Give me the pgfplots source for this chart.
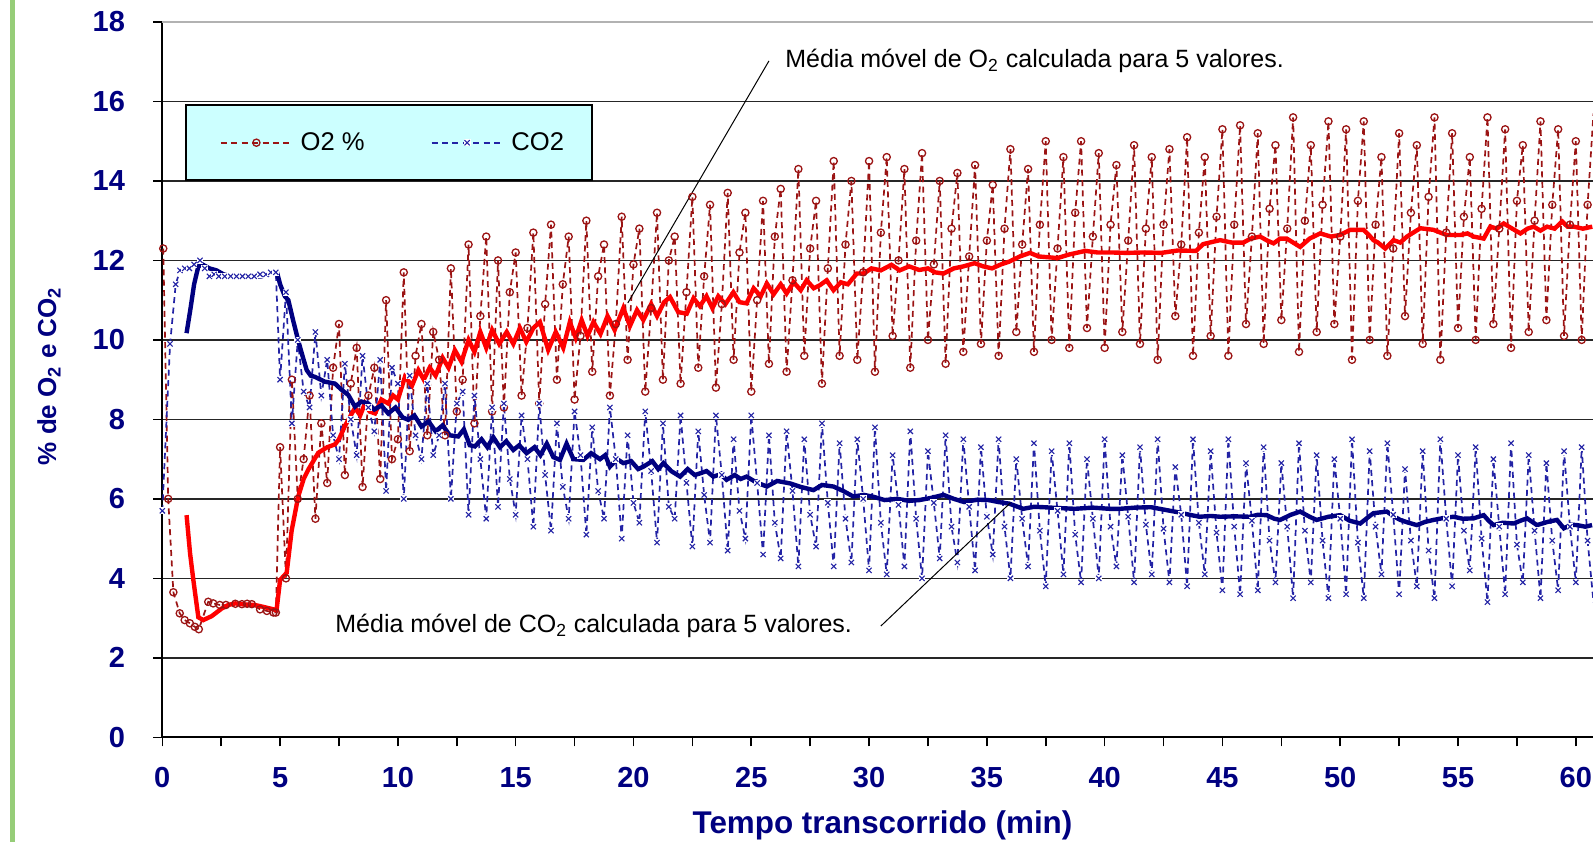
\documentclass[border=0pt]{standalone}
\usepackage{fontspec}
\setmainfont{Liberation Sans}
\usepackage{pgfplots}
\pgfplotsset{compat=1.18}
\definecolor{navy}{RGB}{0,0,128}
\definecolor{otwo}{RGB}{155,20,20}
\definecolor{cotwo}{RGB}{35,35,165}
\definecolor{legfill}{RGB}{204,255,255}
\definecolor{brd}{RGB}{150,205,120}
\pgfdeclareplotmark{xbox}{%
  \pgfscope
  \pgfpathrectangle{\pgfqpoint{-1.3\pgfplotmarksize}{-1.3\pgfplotmarksize}}{\pgfqpoint{2.6\pgfplotmarksize}{2.6\pgfplotmarksize}}%
  \pgfsetfillcolor{white}\pgfusepathqfill
  \endpgfscope
  \pgfpathmoveto{\pgfqpoint{-\pgfplotmarksize}{-\pgfplotmarksize}}%
  \pgfpathlineto{\pgfqpoint{\pgfplotmarksize}{\pgfplotmarksize}}%
  \pgfpathmoveto{\pgfqpoint{-\pgfplotmarksize}{\pgfplotmarksize}}%
  \pgfpathlineto{\pgfqpoint{\pgfplotmarksize}{-\pgfplotmarksize}}%
  \pgfusepathqstroke}
\begin{document}
\begin{tikzpicture}
\useasboundingbox (0,0) rectangle (796.5pt,421pt);
\fill[brd] (5pt,0) rectangle (7.5pt,421pt);
\begin{axis}[
  at={(81.15pt,52.35pt)}, anchor=south west,
  scale only axis, width=715.35pt, height=357.65pt,
  xmin=0, xmax=60.73, ymin=0, ymax=18,
  axis x line*=bottom, axis y line*=left,
  axis line style={-, black, line width=1pt},
  xtick={0,5,...,60}, minor xtick={2.5,7.5,...,57.5},
  ytick={0,2,...,16}, extra y ticks={18},
  tick align=outside, major tick length=4.5pt, minor tick length=4.5pt,
  tick style={black, line width=0.8pt},
  ymajorgrids, grid style={black!85, line width=0.8pt},
  extra y tick style={grid style={gray!60, line width=0.8pt}},
  ticklabel style={font=\fontsize{14.5}{16}\selectfont\bfseries, text=navy, inner sep=0pt},
  /pgf/number format/assume math mode=true,
  xticklabel shift=10.5pt, yticklabel shift=14pt,
  xlabel={Tempo transcorrido (min)},
  xlabel style={at={(axis description cs:0.5034,-0.1226)}, anchor=center, font=\fontsize{15.7}{18}\selectfont\bfseries, text=navy},
  ylabel={\% de O\textsubscript{2} e CO\textsubscript{2}},
  ylabel style={at={(axis description cs:-0.0792,0.505)}, anchor=center, font=\fontsize{13}{16}\selectfont\bfseries, text=navy},
  legend columns=2,
  legend style={at={(axis description cs:0.0159,0.885)}, anchor=north west, fill=legfill, draw=black, line width=1pt,
    font=\fontsize{12.8}{15}\selectfont, text=black, inner xsep=12pt, inner ysep=11.5pt,
    /tikz/every even column/.append style={column sep=26pt}},
  legend image code/.code={\path (-5pt,0pt) (37.5pt,0pt); \draw[mark repeat=2,mark phase=2,#1] plot coordinates {(0pt,0pt) (17.75pt,0pt) (35.5pt,0pt)};},
]
\addplot[otwo, line width=0.85pt, dash pattern=on 3pt off 2.2pt, mark=o, mark size=1.8pt, mark options={solid, fill=white, line width=0.65pt}] coordinates {
(0.04,12.3)(0.25,6.0)(0.47,3.65)(0.74,3.12)(0.95,2.95)(1.17,2.87)(1.38,2.78)(1.55,2.72)(1.95,3.41)(2.16,3.37)(2.44,3.33)(2.7,3.33)(3.1,3.36)(3.38,3.35)(3.6,3.36)(3.8,3.35)(4.15,3.22)(4.44,3.18)(4.72,3.14)(4.82,3.14)
(5.0,7.3)(5.25,4.0)(5.5,9.0)(5.75,6.0)(6.0,7.0)(6.25,8.6)(6.5,5.5)(6.75,7.9)(7.0,6.4)(7.25,9.3)(7.5,10.4)(7.75,6.6)(8.0,8.9)(8.25,9.8)(8.5,6.3)(8.75,8.6)(9.0,9.3)(9.25,6.5)(9.5,11.0)(9.75,7.0)(10.0,7.5)(10.25,11.7)(10.5,7.2)(10.75,9.6)(11.0,10.4)(11.25,7.6)(11.5,10.2)(11.75,9.5)(12.0,7.6)(12.25,11.8)(12.5,8.2)(12.75,9.0)(13.0,12.4)(13.25,7.9)(13.5,10.6)(13.75,12.6)(14.0,8.2)
(14.25,12.0)(14.5,8.3)(14.75,11.2)(15.0,12.2)(15.25,8.6)(15.5,10.3)(15.75,12.7)(16.0,8.4)(16.25,10.9)(16.5,12.9)(16.75,9.0)(17.0,11.4)(17.25,12.6)(17.5,8.5)(17.75,10.1)(18.0,13.0)(18.25,9.2)(18.5,11.6)(18.75,12.4)(19.0,8.6)(19.25,10.4)(19.5,13.1)(19.75,9.5)(20.0,11.9)(20.25,12.8)(20.5,8.7)(20.75,10.8)(21.0,13.2)(21.25,9.0)(21.5,12.0)(21.75,12.6)(22.0,8.9)(22.25,11.2)(22.5,13.6)(22.75,9.3)(23.0,11.6)(23.25,13.4)(23.5,8.8)(23.75,10.9)(24.0,13.7)(24.25,9.5)(24.5,12.2)(24.75,13.2)(25.0,8.7)(25.25,11.0)(25.5,13.5)(25.75,9.4)(26.0,12.6)(26.25,13.8)(26.5,9.2)(26.75,11.5)(27.0,14.3)(27.25,9.6)(27.5,12.3)(27.75,13.5)(28.0,8.9)(28.25,11.8)(28.5,14.5)(28.75,9.6)(29.0,12.4)(29.25,14.0)(29.5,9.5)(29.75,11.7)(30.0,14.5)(30.25,9.2)(30.5,12.7)(30.75,14.6)(31.0,10.1)(31.25,12.0)(31.5,14.3)(31.75,9.3)(32.0,12.5)(32.25,14.7)(32.5,10.0)(32.75,11.9)(33.0,14.0)(33.25,9.4)(33.5,12.8)(33.75,14.2)(34.0,9.7)(34.25,12.1)(34.5,14.4)(34.75,9.9)(35.0,12.5)(35.25,13.9)(35.5,9.6)(35.75,12.8)(36.0,14.8)(36.25,10.2)(36.5,12.4)(36.75,14.3)(37.0,9.7)(37.25,12.9)(37.5,15.0)(37.75,10.0)(38.0,12.3)(38.25,14.6)(38.5,9.8)(38.75,13.2)(39.0,15.0)(39.25,10.3)(39.5,12.6)(39.75,14.7)(40.0,9.8)(40.25,12.9)(40.5,14.4)(40.75,10.2)(41.0,12.5)(41.25,14.9)(41.5,9.9)(41.75,12.8)(42.0,14.6)(42.25,9.5)(42.5,12.9)(42.75,14.8)(43.0,10.6)(43.25,12.4)(43.5,15.1)(43.75,9.6)(44.0,12.7)(44.25,14.6)(44.5,10.1)(44.75,13.1)(45.0,15.3)(45.25,9.6)(45.5,12.9)(45.75,15.4)(46.0,10.4)(46.25,12.6)(46.5,15.2)(46.75,9.9)(47.0,13.3)(47.25,14.9)(47.5,10.5)(47.75,12.8)(48.0,15.6)(48.25,9.7)(48.5,13.0)(48.75,14.9)(49.0,10.2)(49.25,13.4)(49.5,15.5)(49.75,10.4)(50.0,12.6)(50.25,15.3)(50.5,9.5)(50.75,13.5)(51.0,15.5)(51.25,10.0)(51.5,12.9)(51.75,14.6)(52.0,9.6)(52.25,12.3)(52.5,15.2)(52.75,10.6)(53.0,13.2)(53.25,14.9)(53.5,9.9)(53.75,13.6)(54.0,15.6)(54.25,9.5)(54.5,12.7)(54.75,15.2)(55.0,10.3)(55.25,13.1)(55.5,14.6)(55.75,10.0)(56.0,13.3)(56.25,15.6)(56.5,10.4)(56.75,12.8)(57.0,15.3)(57.25,9.8)(57.5,13.5)(57.75,14.9)(58.0,10.2)(58.25,13.0)(58.5,15.5)(58.75,10.5)(59.0,13.4)(59.25,15.3)(59.5,10.1)(59.75,12.9)(60.0,15.0)(60.25,10.0)(60.5,13.4)(60.75,15.7)
};
\addlegendentry{O2 \%}
\addplot[cotwo, line width=0.85pt, dash pattern=on 3pt off 2.2pt, mark=xbox, mark size=1.3pt, mark options={solid, line width=0.55pt}] coordinates {
(0.0,5.7)(0.33,9.9)(0.57,11.4)(0.75,11.75)(0.95,11.8)(1.15,11.8)(1.35,11.9)(1.6,12.0)(1.8,11.8)(2.0,11.6)(2.2,11.65)(2.4,11.6)(2.65,11.6)(2.9,11.6)(3.15,11.6)(3.4,11.6)(3.65,11.6)(3.9,11.6)(4.15,11.65)(4.4,11.65)(4.6,11.7)(4.82,11.7)
(5.0,9.0)(5.25,11.2)(5.5,7.9)(5.75,10.0)(6.0,8.7)(6.25,8.3)(6.5,10.2)(6.75,8.6)(7.0,9.5)(7.25,7.6)(7.5,7.0)(7.75,9.4)(8.0,8.0)(8.25,7.1)(8.5,9.6)(8.75,8.3)(9.0,7.7)(9.25,9.5)(9.5,6.2)(9.75,9.3)(10.0,8.9)(10.25,6.0)(10.5,9.1)(10.75,7.6)(11.0,7.0)(11.25,8.9)(11.5,7.1)(11.75,7.6)(12.0,8.9)(12.25,6.0)(12.5,8.4)(12.75,8.7)(13.0,5.6)(13.25,8.6)(13.5,7.0)(13.75,5.5)(14.0,8.3)
(14.25,5.8)(14.5,8.4)(14.75,6.5)(15.0,5.6)(15.25,8.1)(15.5,7.0)(15.75,5.3)(16.0,8.4)(16.25,6.6)(16.5,5.2)(16.75,7.9)(17.0,6.3)(17.25,5.5)(17.5,8.2)(17.75,7.1)(18.0,5.1)(18.25,7.8)(18.5,6.2)(18.75,5.5)(19.0,8.3)(19.25,7.0)(19.5,5.0)(19.75,7.6)(20.0,5.9)(20.25,5.4)(20.5,8.2)(20.75,6.7)(21.0,4.9)(21.25,7.9)(21.5,5.8)(21.75,5.5)(22.0,8.1)(22.25,6.4)(22.5,4.8)(22.75,7.7)(23.0,6.1)(23.25,4.9)(23.5,8.1)(23.75,6.6)(24.0,4.7)(24.25,7.5)(24.5,5.7)(24.75,5.0)(25.0,8.1)(25.25,6.4)(25.5,4.6)(25.75,7.6)(26.0,5.4)(26.25,4.5)(26.5,7.7)(26.75,6.2)(27.0,4.3)(27.25,7.5)(27.5,5.6)(27.75,4.8)(28.0,7.9)(28.25,5.9)(28.5,4.3)(28.75,7.4)(29.0,5.5)(29.25,4.4)(29.5,7.5)(29.75,6.0)(30.0,4.2)(30.25,7.8)(30.5,5.4)(30.75,4.1)(31.0,7.1)(31.25,5.85)(31.5,4.3)(31.75,7.7)(32.0,5.5)(32.25,4.0)(32.5,7.2)(32.75,5.9)(33.0,4.5)(33.25,7.6)(33.5,5.3)(33.75,4.4)(34.0,7.5)(34.25,5.8)(34.5,4.2)(34.75,7.3)(35.0,5.55)(35.25,4.6)(35.5,7.5)(35.75,5.3)(36.0,4.0)(36.25,7.0)(36.5,5.5)(36.75,4.3)(37.0,7.4)(37.25,5.2)(37.5,3.8)(37.75,7.2)(38.0,5.7)(38.25,4.1)(38.5,7.4)(38.75,5.1)(39.0,3.9)(39.25,7.0)(39.5,5.5)(39.75,4.0)(40.0,7.5)(40.25,5.3)(40.5,4.3)(40.75,7.1)(41.0,5.55)(41.25,3.9)(41.5,7.3)(41.75,5.35)(42.0,4.1)(42.25,7.5)(42.5,5.25)(42.75,3.9)(43.0,6.8)(43.25,5.6)(43.5,3.8)(43.75,7.5)(44.0,5.4)(44.25,4.1)(44.5,7.2)(44.75,5.15)(45.0,3.7)(45.25,7.5)(45.5,5.3)(45.75,3.6)(46.0,6.9)(46.25,5.45)(46.5,3.7)(46.75,7.3)(47.0,4.95)(47.25,3.9)(47.5,6.9)(47.75,5.3)(48.0,3.5)(48.25,7.4)(48.5,5.2)(48.75,3.9)(49.0,7.1)(49.25,4.95)(49.5,3.5)(49.75,7.0)(50.0,5.5)(50.25,3.6)(50.5,7.5)(50.75,4.9)(51.0,3.5)(51.25,7.2)(51.5,5.3)(51.75,4.1)(52.0,7.4)(52.25,5.6)(52.5,3.6)(52.75,6.75)(53.0,4.95)(53.25,3.8)(53.5,7.2)(53.75,4.7)(54.0,3.5)(54.25,7.5)(54.5,5.5)(54.75,3.8)(55.0,7.1)(55.25,5.2)(55.5,4.2)(55.75,7.3)(56.0,5.0)(56.25,3.4)(56.5,7.0)(56.75,5.3)(57.0,3.6)(57.25,7.4)(57.5,4.85)(57.75,3.9)(58.0,7.1)(58.25,5.2)(58.5,3.5)(58.75,6.9)(59.0,4.95)(59.25,3.7)(59.5,7.2)(59.75,5.3)(60.0,3.9)(60.25,7.3)(60.5,4.95)(60.75,3.4)
};
\addlegendentry{CO2}
\addplot[red, line width=2.2pt, forget plot] coordinates {
(1.03,5.59)(1.18,4.62)(1.32,3.95)(1.53,3.02)(1.74,2.95)(2.1,3.05)(2.52,3.24)(2.8,3.33)(3.1,3.37)(3.5,3.34)(3.93,3.33)(4.3,3.28)(4.72,3.22)(4.85,3.2)(5.0,3.96)(5.28,4.14)(5.49,5.2)(5.77,6.06)(6.0,6.5)(6.2,6.74)(6.62,7.16)(7.0,7.3)(7.33,7.37)(7.5,7.5)(7.75,7.83)(8.0,8.1)(8.18,8.29)(8.4,8.1)(8.6,8.4)(8.8,8.2)(9.03,8.15)(9.3,8.5)(9.59,8.4)(9.8,8.6)(10.0,8.5)
(10.3,9.07)(10.6,8.85)(10.87,9.24)(11.1,9.0)(11.35,9.3)(11.6,9.1)(11.9,9.55)(12.15,9.3)(12.42,9.74)(12.7,9.45)(13.0,10.0)(13.25,9.7)(13.5,10.2)(13.75,9.8)(14.0,10.25)(14.3,9.9)(14.62,10.2)(14.9,9.9)(15.18,10.3)(15.45,9.95)(15.75,10.3)(16.03,10.45)(16.38,9.75)(16.7,10.2)(17.02,9.8)(17.3,10.45)(17.55,10.05)(17.8,10.5)(18.05,10.1)(18.3,10.45)(18.6,10.15)(18.9,10.6)(19.2,10.25)(19.57,10.8)(19.85,10.35)(20.15,10.75)(20.42,10.5)(20.75,10.9)(21.0,10.6)(21.3,10.95)(21.55,11.08)(21.9,10.7)(22.26,10.66)(22.55,11.05)(22.82,10.85)(23.1,11.1)(23.35,10.8)(23.6,11.1)(23.9,10.9)(24.24,11.2)(24.5,10.95)(24.8,10.92)(25.1,11.3)(25.4,11.1)(25.66,11.42)(25.95,11.15)(26.25,11.4)(26.5,11.17)(26.8,11.45)(27.1,11.25)(27.35,11.5)(27.65,11.3)(27.92,11.38)(28.2,11.5)(28.49,11.25)(28.8,11.45)(29.1,11.4)(29.48,11.67)(29.78,11.67)(30.1,11.8)(30.5,11.75)(30.95,11.89)(31.3,11.75)(31.7,11.85)(32.13,11.76)(32.5,11.8)(32.8,11.7)(33.16,11.67)(33.6,11.8)(34.0,11.85)(34.48,11.93)(34.85,11.85)(35.22,11.8)(35.6,11.9)(35.95,11.97)(36.4,12.1)(36.83,12.19)(37.2,12.1)(37.6,12.08)(38.0,12.06)(38.5,12.15)(39.18,12.24)(39.7,12.2)(40.3,12.2)(40.94,12.19)(41.6,12.2)(42.41,12.19)(43.1,12.25)(43.88,12.24)(44.18,12.41)(44.6,12.47)(44.9,12.51)(45.4,12.45)(45.89,12.45)(46.2,12.55)(46.6,12.6)(46.9,12.5)(47.17,12.43)(47.45,12.55)(47.73,12.55)(48.0,12.45)(48.3,12.34)(48.7,12.55)(49.15,12.68)(49.6,12.6)(50.0,12.64)(50.42,12.77)(50.99,12.77)(51.2,12.65)(51.41,12.51)(51.6,12.45)(51.91,12.3)(52.26,12.51)(52.55,12.45)(52.83,12.6)(53.1,12.7)(53.4,12.81)(53.96,12.77)(54.25,12.7)(54.53,12.64)(55.1,12.64)(55.4,12.68)(55.66,12.6)(56.09,12.55)(56.37,12.85)(56.65,12.8)(56.94,12.93)(57.3,12.8)(57.65,12.68)(57.95,12.8)(58.21,12.85)(58.5,12.75)(58.78,12.85)(59.1,12.8)(59.42,12.98)(59.65,12.85)(59.91,12.85)(60.3,12.8)(60.7,12.85)
};
\addplot[navy, line width=2.2pt, forget plot] coordinates {
(1.03,10.17)(1.2,10.8)(1.35,11.4)(1.53,11.85)(1.7,11.9)(2.0,11.8)(2.3,11.75)(2.6,11.65)(2.9,11.6)(3.3,11.6)(3.8,11.6)(4.2,11.6)(4.5,11.65)(4.7,11.7)(4.86,11.72)(5.0,11.4)(5.2,11.1)(5.35,11.0)(5.55,10.5)(5.77,9.98)(5.95,9.6)(6.13,9.24)(6.3,9.1)(6.48,9.07)(6.9,8.95)(7.33,8.9)(7.6,8.75)(7.9,8.61)(8.18,8.32)(8.45,8.45)(8.74,8.4)(9.0,8.25)(9.3,8.35)(9.59,8.15)(9.9,8.3)(10.2,8.05)(10.44,7.99)(10.7,8.1)(11.0,7.82)(11.3,7.95)(11.6,7.7)(11.9,7.85)(12.2,7.6)(12.56,7.57)(12.8,7.75)(13.05,7.35)(13.27,7.32)(13.55,7.5)(13.8,7.3)(14.05,7.55)(14.33,7.3)(14.6,7.45)(14.9,7.23)(15.15,7.35)(15.46,7.15)(15.8,7.3)(16.05,7.1)(16.32,7.39)(16.6,7.05)(16.88,6.98)(17.16,7.39)(17.45,7.0)(17.87,6.98)(18.2,7.15)(18.58,7.0)(18.8,7.1)(19.0,6.81)(19.3,7.0)(19.57,6.9)(19.9,6.95)(20.2,6.75)(20.42,6.81)(20.8,6.95)(21.05,6.75)(21.27,6.9)(21.6,6.7)(21.98,6.56)(22.3,6.75)(22.6,6.6)(22.82,6.64)(23.1,6.7)(23.39,6.56)(23.7,6.62)(23.95,6.48)(24.3,6.6)(24.55,6.5)(24.8,6.56)(25.2,6.42)(25.66,6.31)(26.1,6.45)(26.64,6.39)(27.1,6.3)(27.64,6.22)(28.0,6.35)(28.49,6.31)(28.9,6.2)(29.33,6.06)(29.78,6.1)(30.2,6.05)(30.66,5.97)(31.2,6.0)(31.7,5.95)(32.13,5.97)(32.6,6.02)(33.16,6.1)(33.6,6.0)(34.04,5.92)(34.6,5.98)(35.07,5.97)(35.5,5.92)(35.95,5.88)(36.54,5.75)(37.0,5.8)(37.42,5.79)(38.0,5.77)(38.74,5.75)(39.5,5.78)(40.2,5.75)(40.65,5.75)(41.3,5.78)(41.97,5.79)(42.6,5.72)(43.15,5.66)(43.6,5.6)(44.03,5.55)(44.5,5.57)(44.9,5.55)(45.5,5.56)(46.17,5.55)(46.5,5.6)(46.88,5.59)(47.2,5.5)(47.45,5.47)(47.9,5.6)(48.3,5.68)(48.7,5.55)(49.0,5.47)(49.5,5.55)(50.0,5.59)(50.4,5.45)(50.85,5.38)(51.1,5.5)(51.41,5.64)(51.98,5.68)(52.3,5.55)(52.55,5.47)(52.9,5.4)(53.25,5.34)(53.6,5.42)(53.96,5.47)(54.4,5.52)(54.81,5.55)(55.2,5.5)(55.66,5.51)(56.09,5.59)(56.3,5.45)(56.51,5.34)(56.9,5.4)(57.36,5.38)(57.65,5.45)(57.93,5.51)(58.35,5.34)(58.8,5.42)(59.2,5.47)(59.49,5.26)(59.8,5.35)(60.05,5.34)(60.4,5.3)(60.69,5.34)
};
\draw[black, line width=0.5pt] (axis cs:25.75,17.02) -- (axis cs:19.76,10.93);
\draw[black, line width=0.5pt] (axis cs:30.5,2.8) -- (axis cs:36.0,5.9);
\node[anchor=west, inner sep=0pt, font=\fontsize{12.5}{15}\selectfont] at (axis cs:26.43,17.02) {Média móvel de O\textsubscript{2} calculada para 5 valores.};
\node[anchor=west, inner sep=0pt, font=\fontsize{12.5}{15}\selectfont] at (axis cs:7.33,2.80) {Média móvel de CO\textsubscript{2} calculada para 5 valores.};
\end{axis}
\end{tikzpicture}
\end{document}
